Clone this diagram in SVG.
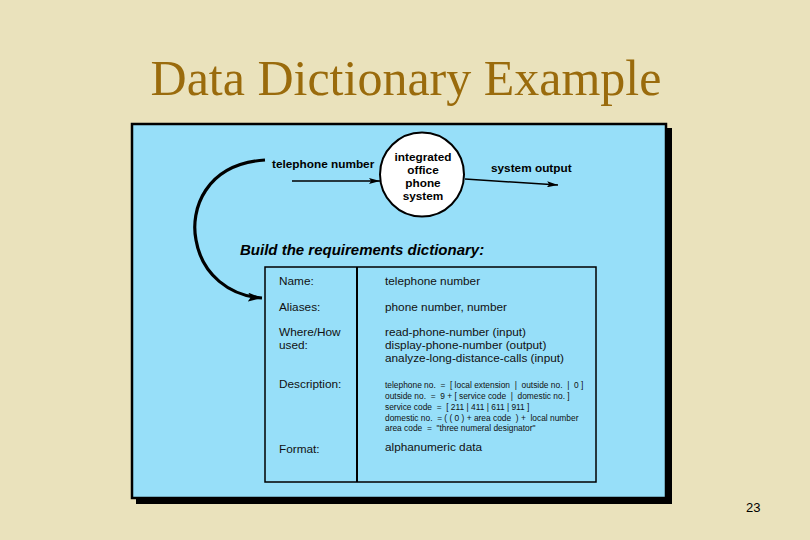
<svg xmlns="http://www.w3.org/2000/svg" width="810" height="540" viewBox="0 0 810 540">
<defs>
<marker id="ah" viewBox="0 0 10 10" refX="10" refY="5" markerWidth="11" markerHeight="6" markerUnits="userSpaceOnUse" orient="auto" preserveAspectRatio="none">
<path d="M0,0 L10,5 L0,10 L2,5 Z" fill="#000"/>
</marker>
<marker id="ah2" viewBox="0 0 10 10" refX="10" refY="5" markerWidth="14" markerHeight="9" markerUnits="userSpaceOnUse" orient="auto" preserveAspectRatio="none">
<path d="M0,0 L10,5 L0,10 L2,5 Z" fill="#000"/>
</marker>
<style>
.lbl{font-family:"Liberation Sans",Arial,sans-serif;font-weight:bold;font-size:11.8px;fill:#000}
.t{font-family:"Liberation Sans",Arial,sans-serif;font-size:11.8px;fill:#111}
.s{font-family:"Liberation Sans",Arial,sans-serif;font-size:8.4px;fill:#111}
.c{font-family:"Liberation Sans",Arial,sans-serif;font-weight:bold;font-size:11.8px;fill:#000;text-anchor:middle}
</style>
</defs>
<rect width="810" height="540" fill="#EAE2BC"/>
<text x="406" y="95" text-anchor="middle" font-family="Liberation Serif,'Times New Roman',serif" font-size="50" fill="#9A6B0C">Data Dictionary Example</text>
<g id="panel">
<rect x="136" y="128" width="536" height="376" fill="#000"/>
<rect x="132" y="124" width="534" height="374" fill="#97DFF9" stroke="#000" stroke-width="2.5"/>
</g>
<g id="process">
<circle cx="422" cy="174.5" r="42" fill="#fff" stroke="#000" stroke-width="2"/>
<text class="c" x="423" y="161">integrated</text>
<text class="c" x="423" y="174">office</text>
<text class="c" x="423" y="187">phone</text>
<text class="c" x="423" y="200">system</text>
</g>
<g id="labels">
<text class="lbl" x="272" y="168">telephone number</text>
<text class="lbl" x="491" y="172">system output</text>
<text x="240" y="255" font-family="Liberation Sans,Arial,sans-serif" font-weight="bold" font-style="italic" font-size="15" fill="#000">Build the requirements dictionary:</text>
</g>
<g id="connectors" fill="none" stroke="#000">
<line x1="292" y1="181" x2="380" y2="181" stroke-width="1.5" marker-end="url(#ah)"/>
<line x1="465" y1="179" x2="558" y2="185" stroke-width="1.5" marker-end="url(#ah)"/>
<path d="M265,160 C205,164 190,210 196,240 C202,275 230,296 262,298" stroke-width="3.2" marker-end="url(#ah2)"/>
</g>
<g id="table">
<rect x="265" y="267" width="331" height="215" fill="none" stroke="#000" stroke-width="1.5"/>
<line x1="357" y1="267" x2="357" y2="482" stroke="#000" stroke-width="2"/>
<text class="t" x="279" y="285">Name:</text>
<text class="t" x="385" y="285">telephone number</text>
<text class="t" x="279" y="311">Aliases:</text>
<text class="t" x="385" y="311">phone number, number</text>
<text class="t" x="279" y="336">Where/How</text>
<text class="t" x="279" y="349">used:</text>
<text class="t" x="385" y="336">read-phone-number (input)</text>
<text class="t" x="385" y="349">display-phone-number (output)</text>
<text class="t" x="385" y="362">analyze-long-distance-calls (input)</text>
<text class="t" x="279" y="388">Description:</text>
<text class="s" x="385" y="388" xml:space="preserve">telephone no.  =  [ local extension  |  outside no.  |  0 ]</text>
<text class="s" x="385" y="399" xml:space="preserve">outside no.  =  9 + [ service code  |  domestic no. ]</text>
<text class="s" x="385" y="410" xml:space="preserve">service code  =  [ 211 | 411 | 611 | 911 ]</text>
<text class="s" x="385" y="421" xml:space="preserve">domestic no.  = ( ( 0 ) + area code  ) +  local number</text>
<text class="s" x="385" y="431" xml:space="preserve">area code  =  "three numeral designator"</text>
<text class="t" x="279" y="453">Format:</text>
<text class="t" x="385" y="451">alphanumeric data</text>
</g>
<text x="746" y="512" font-family="Liberation Sans,Arial,sans-serif" font-size="13" fill="#000">23</text>
</svg>
